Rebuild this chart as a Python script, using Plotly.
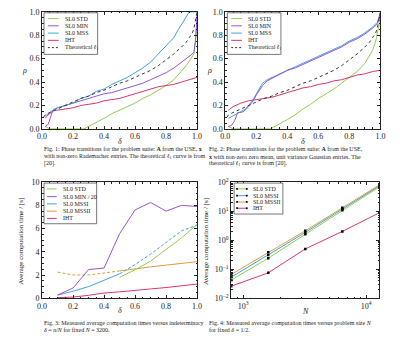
import math
import plotly.graph_objects as go

W, H = 400, 340
SERIF = "Liberation Serif, Times New Roman, serif"

GREEN = "#93cd4f"
PURPLE = "#9257d8"
BLUE = "#40a2dd"
PINK = "#d8356f"
ORANGE = "#e39b3c"
DASHED = "#333333"
INK = "#222222"

# ---------------- Fig. 1: Rademacher entries ----------------
f1_std_delta = [0.02, 0.05, 0.27, 0.3, 0.35, 0.4, 0.45, 0.5, 0.55, 0.6, 0.65, 0.7, 0.75,
                0.8, 0.85, 0.9, 0.93, 0.95, 0.97, 0.98, 1.0]
f1_std_rho = [0.02, 0.0, 0.0, 0.02, 0.05, 0.09, 0.13, 0.16, 0.19, 0.22, 0.26, 0.29, 0.33,
              0.37, 0.42, 0.49, 0.54, 0.58, 0.62, 0.64, 0.9]

f1_min_delta = [0.02, 0.04, 0.06, 0.07, 0.1, 0.15, 0.2, 0.25, 0.3, 0.35, 0.4, 0.45, 0.5,
                0.55, 0.6, 0.65, 0.7, 0.75, 0.8, 0.85, 0.9, 0.93, 0.95, 0.97, 0.98, 0.99, 1.0]
f1_min_rho = [0.02, 0.04, 0.12, 0.16, 0.18, 0.2, 0.22, 0.24, 0.26, 0.28, 0.3, 0.31, 0.33,
              0.35, 0.37, 0.39, 0.42, 0.45, 0.48, 0.52, 0.57, 0.6, 0.62, 0.64, 0.66, 0.75, 0.98]

f1_mss_delta = [0.02, 0.04, 0.06, 0.08, 0.1, 0.15, 0.2, 0.25, 0.3, 0.35, 0.4, 0.45, 0.5,
                0.55, 0.6, 0.65, 0.7, 0.75, 0.8, 0.85, 0.88, 0.9, 0.93, 0.95, 1.0]
f1_mss_rho = [0.11, 0.13, 0.15, 0.17, 0.18, 0.2, 0.22, 0.26, 0.28, 0.32, 0.34, 0.38, 0.41,
              0.44, 0.48, 0.52, 0.57, 0.64, 0.71, 0.78, 0.85, 0.89, 0.96, 1.0, 1.0]

f1_iht_delta = [0.02, 0.04, 0.06, 0.08, 0.1, 0.15, 0.2, 0.25, 0.3, 0.35, 0.4, 0.45, 0.5,
                0.55, 0.6, 0.65, 0.7, 0.75, 0.8, 0.85, 0.9, 0.95, 1.0]
f1_iht_rho = [0.09, 0.12, 0.14, 0.16, 0.16, 0.17, 0.18, 0.2, 0.21, 0.22, 0.24, 0.25, 0.26,
              0.28, 0.3, 0.32, 0.34, 0.36, 0.37, 0.38, 0.4, 0.42, 0.44]

# Theoretical l1 weak phase transition (shared by Fig. 1 and Fig. 2)
l1_delta = [0.01, 0.02, 0.05, 0.1, 0.15, 0.2, 0.25, 0.3, 0.35, 0.4, 0.45, 0.5, 0.55, 0.6,
            0.65, 0.7, 0.75, 0.8, 0.85, 0.9, 0.93, 0.95, 0.97, 0.98, 1.0]
l1_rho = [0.1, 0.12, 0.14, 0.17, 0.2, 0.23, 0.26, 0.28, 0.31, 0.33, 0.36, 0.39, 0.41, 0.44,
          0.47, 0.5, 0.54, 0.59, 0.64, 0.7, 0.74, 0.78, 0.82, 0.86, 1.0]

# ---------------- Fig. 2: Gaussian entries ----------------
f2_std_delta = [0.02, 0.05, 0.29, 0.35, 0.4, 0.45, 0.5, 0.55, 0.6, 0.65, 0.7, 0.75, 0.8,
                0.85, 0.9, 0.93, 0.95, 0.97, 0.99, 1.0]
f2_std_rho = [0.02, 0.0, 0.0, 0.04, 0.08, 0.12, 0.17, 0.21, 0.26, 0.3, 0.34, 0.39, 0.44,
              0.49, 0.56, 0.62, 0.67, 0.75, 0.88, 0.98]

f2_min_delta = [0.02, 0.04, 0.06, 0.08, 0.1, 0.12, 0.15, 0.18, 0.2, 0.24, 0.27, 0.3, 0.35,
                0.4, 0.45, 0.5, 0.55, 0.6, 0.65, 0.7, 0.75, 0.8, 0.85, 0.9, 0.95, 0.98, 1.0]
f2_min_rho = [0.02, 0.03, 0.07, 0.14, 0.14, 0.15, 0.19, 0.24, 0.29, 0.37, 0.41, 0.43, 0.47,
              0.5, 0.52, 0.55, 0.58, 0.61, 0.64, 0.67, 0.7, 0.74, 0.77, 0.81, 0.86, 0.9, 0.99]

f2_mss_delta = [0.02, 0.05, 0.1, 0.13, 0.15, 0.18, 0.2, 0.24, 0.27, 0.3, 0.35, 0.4, 0.45,
                0.5, 0.55, 0.6, 0.65, 0.7, 0.75, 0.8, 0.85, 0.9, 0.95, 0.98, 1.0]
f2_mss_rho = [0.09, 0.11, 0.15, 0.17, 0.2, 0.25, 0.3, 0.39, 0.42, 0.44, 0.47, 0.5, 0.53,
              0.56, 0.59, 0.62, 0.65, 0.68, 0.71, 0.75, 0.78, 0.82, 0.87, 0.91, 0.99]

f2_iht_delta = [0.02, 0.05, 0.1, 0.15, 0.2, 0.25, 0.3, 0.35, 0.4, 0.45, 0.5, 0.55, 0.6,
                0.65, 0.7, 0.75, 0.8, 0.85, 0.9, 0.95, 1.0]
f2_iht_rho = [0.16, 0.19, 0.22, 0.24, 0.25, 0.26, 0.27, 0.29, 0.31, 0.33, 0.35, 0.36, 0.38,
              0.39, 0.41, 0.42, 0.44, 0.46, 0.47, 0.49, 0.5]

# ---------------- Fig. 3: times vs delta, N = 3200 ----------------
f3_delta = [0.1, 0.2, 0.3, 0.4, 0.5, 0.6, 0.7, 0.8, 0.9, 1.0]
f3_std = [None, None, None, None, 1.8, 2.45, 3.2, 4.2, 5.2, 6.35]
f3_min20 = [0.27, 0.88, 2.47, 2.6, 5.55, 7.6, 8.25, 7.5, 8.0, 7.9]
f3_mssi = [0.27, 0.6, 1.0, 1.55, 2.1, 2.9, 3.8, 4.8, 5.8, 6.3]
f3_mssii = [2.25, 2.0, 2.0, 2.15, 2.35, 2.55, 2.7, 2.85, 3.0, 3.15]
f3_iht = [0.05, 0.1, 0.25, 0.45, 0.55, 0.7, 0.8, 0.92, 1.05, 1.22]
f3_split = 4  # index of delta = 0.5 where MSSI turns dashed and MSSII turns solid

# ---------------- Fig. 4: times vs N, delta = 1/2 ----------------
f4_n = [800, 1600, 3200, 6400, 12800]
f4_std = [0.042, 0.24, 1.6, 10.8, 68]
f4_mssi = [0.053, 0.31, 1.85, 11.8, 74]
f4_mssii = [0.066, 0.38, 2.1, 13.0, 80]
f4_iht = [0.026, 0.075, 0.5, 2.0, 8.8]

# Legend labels
leg12 = [("SL0 STD", GREEN, "solid"), ("SL0 MIN", PURPLE, "solid"),
         ("SL0 MSS", BLUE, "solid"), ("IHT", PINK, "solid"),
         ("Theoretical <i>ℓ</i><sub>1</sub>", DASHED, "dot")]
leg3 = [("SL0 STD", GREEN), ("SL0 MIN / 20", PURPLE), ("SL0 MSSI", BLUE),
        ("SL0 MSSII", ORANGE), ("IHT", PINK)]
leg4 = [("SL0 STD", GREEN), ("SL0 MSSI", BLUE), ("SL0 MSSII", ORANGE), ("IHT", PINK)]


def fx(x):
    return x / W


def fy(y):
    return 1 - y / H


fig = go.Figure()


def add_line(x, y, color, ax, dash="solid", markers=False):
    fig.add_trace(go.Scatter(
        x=x, y=y, xaxis="x" + ax, yaxis="y" + ax,
        mode="lines+markers" if markers else "lines",
        line=dict(color=color, width=1, dash=dash),
        marker=dict(symbol="square", size=2.5, color="black"),
        connectgaps=False, showlegend=False, hoverinfo="skip"))


# Fig. 1
add_line(f1_std_delta, f1_std_rho, GREEN, "")
add_line(f1_iht_delta, f1_iht_rho, PINK, "")
add_line(f1_min_delta, f1_min_rho, PURPLE, "")
add_line(f1_mss_delta, f1_mss_rho, BLUE, "")
add_line(l1_delta, l1_rho, DASHED, "", dash="3px,3px")
# Fig. 2
add_line(f2_std_delta, f2_std_rho, GREEN, "2")
add_line(f2_iht_delta, f2_iht_rho, PINK, "2")
add_line(f2_mss_delta, f2_mss_rho, BLUE, "2")
add_line(f2_min_delta, f2_min_rho, PURPLE, "2")
add_line(l1_delta, l1_rho, DASHED, "2", dash="3px,3px")
# Fig. 3
s = f3_split
add_line(f3_delta, f3_iht, PINK, "3")
add_line(f3_delta[:s + 1], f3_mssii[:s + 1], ORANGE, "3", dash="3px,2px")
add_line(f3_delta[s:], f3_mssii[s:], ORANGE, "3")
add_line(f3_delta[:s + 1], f3_mssi[:s + 1], BLUE, "3")
add_line(f3_delta[s:], f3_mssi[s:], BLUE, "3", dash="3px,2px")
add_line(f3_delta, f3_std, GREEN, "3")
add_line(f3_delta, f3_min20, PURPLE, "3")
# Fig. 4
add_line(f4_n, f4_iht, PINK, "4", markers=True)
add_line(f4_n, f4_std, GREEN, "4", markers=True)
add_line(f4_n, f4_mssi, BLUE, "4", markers=True)
add_line(f4_n, f4_mssii, ORANGE, "4", markers=True)


def axis(**kw):
    base = dict(showline=True, linecolor=INK, linewidth=1, mirror="ticks",
                ticks="inside", ticklen=3, tickwidth=0.8, tickcolor=INK,
                showgrid=False, zeroline=False, fixedrange=True,
                tickfont=dict(family=SERIF, size=8, color=INK))
    base.update(kw)
    return base


lin_minor = dict(ticks="inside", ticklen=1.5, tickcolor=INK, dtick=0.05, showgrid=False)
delta_axis = dict(range=[0, 1], tick0=0, dtick=0.2, tickformat=".1f", minor=lin_minor)
rho_axis = dict(range=[0, 1], tick0=0, dtick=0.2, tickformat=".1f", minor=lin_minor)

top = [fy(127), fy(6)]
bottom = [fy(302), fy(182)]

log_minor_x = [m * 10 ** e for e in (2, 3, 4) for m in range(2, 10)
               if 800 <= m * 10 ** e <= 12800]
log_minor_y = [m * 10 ** e for e in (-2, -1, 0, 1) for m in range(2, 10)]

fig.update_layout(
    width=W, height=H, margin=dict(l=0, r=0, t=0, b=0),
    paper_bgcolor="white", plot_bgcolor="white", showlegend=False,
    xaxis=axis(domain=[fx(38), fx(197)], anchor="y", **delta_axis),
    yaxis=axis(domain=top, anchor="x", **rho_axis),
    xaxis2=axis(domain=[fx(226), fx(385)], anchor="y2", **delta_axis),
    yaxis2=axis(domain=top, anchor="x2", **rho_axis),
    xaxis3=axis(domain=[fx(38), fx(197)], anchor="y3", **delta_axis),
    yaxis3=axis(domain=bottom, anchor="x3", range=[0, 10], tick0=0, dtick=2,
                minor=dict(ticks="inside", ticklen=1.5, tickcolor=INK, dtick=0.5)),
    xaxis4=axis(domain=[fx(232), fx(384)], anchor="y4", type="log",
                range=[math.log10(800), math.log10(12800)],
                tickvals=[1000, 10000], ticktext=["10<sup>3</sup>", "10<sup>4</sup>"],
                minor=dict(ticks="inside", ticklen=1.5, tickcolor=INK, tickvals=log_minor_x)),
    yaxis4=axis(domain=bottom, anchor="x4", type="log", range=[-2, 2],
                tickvals=[0.01, 0.1, 1, 10, 100],
                ticktext=["10<sup>−2</sup>", "10<sup>−1</sup>", "10<sup>0</sup>",
                          "10<sup>1</sup>", "10<sup>2</sup>"],
                minor=dict(ticks="inside", ticklen=1.5, tickcolor=INK, tickvals=log_minor_y)),
)

shapes = []
annotations = []


def text(x, y, s, size=6, anchor="left", angle=0):
    annotations.append(dict(
        x=fx(x), y=fy(y), xref="paper", yref="paper", text=s, showarrow=False,
        xanchor=anchor, yanchor="middle", textangle=angle,
        font=dict(family=SERIF, size=size, color=INK)))


def legend(box, rows, line_x, text_x, entries, markers=False):
    x0, y0, x1, y1 = box
    shapes.append(dict(type="rect", xref="paper", yref="paper",
                       x0=fx(x0), x1=fx(x1), y0=fy(y1), y1=fy(y0),
                       line=dict(color="#555555", width=0.8), fillcolor="white",
                       layer="above"))
    for entry, yy in zip(entries, rows):
        label, color = entry[0], entry[1]
        dash = entry[2] if len(entry) > 2 else "solid"
        shapes.append(dict(type="line", xref="paper", yref="paper",
                           x0=fx(line_x[0]), x1=fx(line_x[1]), y0=fy(yy), y1=fy(yy),
                           line=dict(color=color, width=1,
                                     dash="2px,2px" if dash == "dot" else "solid"),
                           layer="above"))
        if markers:
            for mx in line_x:
                shapes.append(dict(type="rect", xref="paper", yref="paper",
                                   x0=fx(mx - 0.9), x1=fx(mx + 0.9),
                                   y0=fy(yy + 0.9), y1=fy(yy - 0.9),
                                   line=dict(width=0), fillcolor="black", layer="above"))
        text(text_x, yy, label, size=6)


legend((40, 7, 95, 50), [13, 20.5, 28, 35.5, 43], (44, 55), (59), leg12)
legend((228, 7, 283, 50), [13, 20.5, 28, 35.5, 43], (232, 243), (247), leg12)
legend((40, 183, 94, 225), [189, 197, 204.5, 212, 219.5], (43, 53), (57), leg3)
legend((235, 183, 285, 215), [189, 196, 202.5, 209], (238, 248), (252), leg4, markers=True)

# axis titles
text(20, 67, "<i>ρ</i>", size=8, anchor="center")
text(117.5, 140, "<i>δ</i>", size=8, anchor="center")
text(210, 67, "<i>ρ</i>", size=8, anchor="center")
text(305.5, 140, "<i>δ</i>", size=8, anchor="center")
text(17, 243, "Average computation time / [s]", size=7, anchor="center", angle=-90)
text(117.5, 315, "<i>δ</i>", size=8, anchor="center")
text(206, 243, "Average computation time / [s]", size=7, anchor="center", angle=-90)
text(308, 316, "<i>N</i>", size=8, anchor="center")

# captions
cap1 = ["Fig. 1: Phase transitions for the problem suite: <b>A</b> from the USE, <b>x</b>",
        "with non-zero Rademacher entries. The theoretical <i>ℓ</i><sub>1</sub> curve is from",
        "[20]."]
cap2 = ["Fig. 2: Phase transitions for the problem suite: <b>A</b> from the USE,",
        "<b>x</b> with non-zero zero mean, unit variance Gaussian entries. The",
        "theoretical <i>ℓ</i><sub>1</sub> curve is from [20]."]
cap3 = ["Fig. 3: Measured average computation times versus indeterminacy",
        "<i>δ</i> = <i>n</i>/<i>N</i> for fixed <i>N</i> = 3200."]
cap4 = ["Fig. 4: Measured average computation times versus problem size <i>N</i>",
        "for fixed <i>δ</i> = 1/2."]

for i, line in enumerate(cap1):
    text(38, 148 + 7.6 * i, line, size=6)
for i, line in enumerate(cap2):
    text(207, 148 + 7.6 * i, line, size=6)
for i, line in enumerate(cap3):
    text(38, 328 + 7.3 * i, line, size=6)
for i, line in enumerate(cap4):
    text(207, 328 + 7.3 * i, line, size=6)

fig.update_layout(shapes=shapes, annotations=annotations)
fig.write_html("out.html")
